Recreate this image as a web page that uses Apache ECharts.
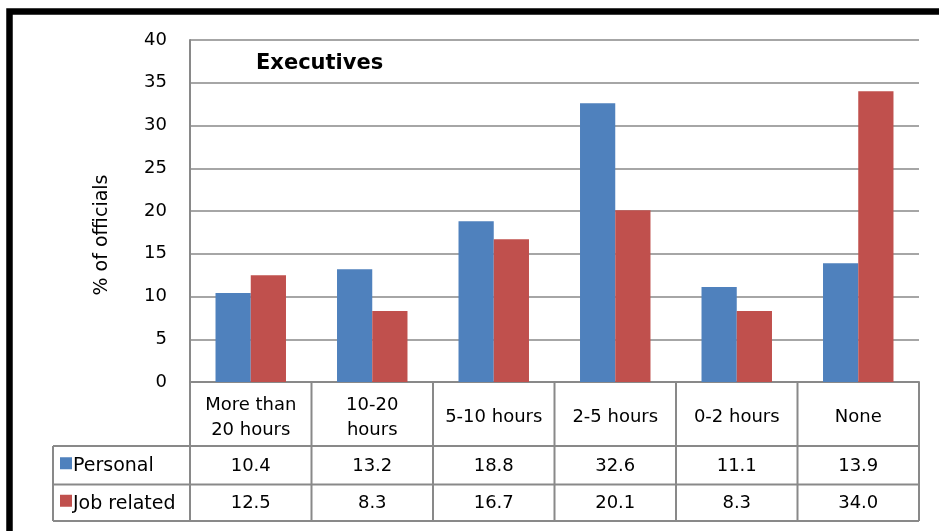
<!DOCTYPE html>
<html>
<head>
<meta charset="utf-8">
<script src="https://cdn.jsdelivr.net/npm/echarts@6/dist/echarts.min.js"></script>
<style>
  html, body { margin: 0; padding: 0; background: #fff; }
  #chart { width: 939px; height: 531px; }
</style>
</head>
<body>
<div id="chart"></div>
<script>
// Weekly hours spent online, executives
const categories = ['More than\n20 hours', '10-20\nhours', '5-10 hours', '2-5 hours', '0-2 hours', 'None'];
const seriesNames = ['Personal', 'Job related'];
const personal = [10.4, 13.2, 18.8, 32.6, 11.1, 13.9];
const jobRelated = [12.5, 8.3, 16.7, 20.1, 8.3, 34.0];
const yMin = 0, yMax = 40, yStep = 5;
const yAxisTitle = '% of officials';

const FONT = 'DejaVu Sans';
const GRID_GRAY = '#898989';
const COLORS = ['#4F81BD', '#C0504D'];

const chart = echarts.init(document.getElementById('chart'), null, { renderer: 'canvas' });

chart.setOption({
  animation: false,
  backgroundColor: '#fff',
  title: {
    text: 'Executives',
    left: 251,
    top: 48,
    textStyle: { fontFamily: FONT, fontSize: 21, fontWeight: 'bold', color: '#000' }
  },
  grid: { left: 190, right: 20, top: 40, bottom: 149, containLabel: false },
  xAxis: {
    type: 'category',
    data: categories,
    axisLine: { show: true, lineStyle: { color: GRID_GRAY, width: 2 } },
    axisTick: { show: false },
    axisLabel: { show: false },
    splitLine: { show: false }
  },
  yAxis: {
    type: 'value',
    min: yMin,
    max: yMax,
    interval: yStep,
    axisLine: { show: true, lineStyle: { color: GRID_GRAY, width: 2 } },
    axisTick: { show: false },
    axisLabel: { fontFamily: FONT, fontSize: 18, color: '#000', margin: 23 },
    splitLine: { show: true, lineStyle: { color: GRID_GRAY, width: 1.5 } }
  },
  series: [
    {
      name: seriesNames[0], type: 'bar', data: personal,
      itemStyle: { color: COLORS[0] },
      barGap: '0%', barCategoryGap: '42%'
    },
    {
      name: seriesNames[1], type: 'bar', data: jobRelated,
      itemStyle: { color: COLORS[1] },
      barGap: '0%', barCategoryGap: '42%'
    }
  ]
});

// Data table drawn under the plot, aligned to the category axis
function buildTable() {
  const c0 = chart.convertToPixel({ xAxisIndex: 0 }, 0);
  const c1 = chart.convertToPixel({ xAxisIndex: 0 }, 1);
  const colW = c1 - c0;
  const left = c0 - colW / 2;
  const right = left + colW * categories.length;
  const top = chart.convertToPixel({ yAxisIndex: 0 }, yMin);
  const rowH = [64, 38.5, 36.5];
  const y1 = top + rowH[0];
  const y2 = y1 + rowH[1];
  const y3 = y2 + rowH[2];
  const legendLeft = 53;
  const lineStyle = { stroke: GRID_GRAY, lineWidth: 2 };
  const els = [];

  const hLine = (x1, x2, y) => els.push({ type: 'line', shape: { x1, y1: y, x2, y2: y }, style: lineStyle, silent: true });
  const vLine = (x, ya, yb) => els.push({ type: 'line', shape: { x1: x, y1: ya, x2: x, y2: yb }, style: lineStyle, silent: true });

  hLine(legendLeft, right, y1);
  hLine(legendLeft, right, y2);
  hLine(legendLeft, right, y3);
  vLine(legendLeft, y1, y3);
  for (let i = 0; i <= categories.length; i++) vLine(left + colW * i, top, y3);

  const rows = [personal, jobRelated];
  categories.forEach((cat, i) => {
    const cx = left + colW * (i + 0.5);
    els.push({
      type: 'text', x: cx, y: top + 35.5, silent: true,
      style: { text: cat, fontFamily: FONT, fontSize: 18, fill: '#000', align: 'center', verticalAlign: 'middle', lineHeight: 25 }
    });
    rows.forEach((vals, r) => {
      const ry = r === 0 ? y1 + rowH[1] / 2 : y2 + rowH[2] / 2;
      els.push({
        type: 'text', x: cx, y: ry + 1, silent: true,
        style: { text: vals[i].toFixed(1), fontFamily: FONT, fontSize: 18, fill: '#000', align: 'center', verticalAlign: 'middle' }
      });
    });
  });

  seriesNames.forEach((name, r) => {
    const ry = r === 0 ? y1 + rowH[1] / 2 : y2 + rowH[2] / 2;
    els.push({ type: 'rect', shape: { x: 60, y: ry - 8, width: 12, height: 12 }, style: { fill: COLORS[r] }, silent: true });
    els.push({
      type: 'text', x: 73, y: ry + 1, silent: true,
      style: { text: name, fontFamily: FONT, fontSize: 19, fill: '#000', align: 'left', verticalAlign: 'middle' }
    });
  });

  // Value-axis title, rotated, sitting a little below the axis middle
  els.push({
    type: 'text', x: 102, y: 235, rotation: Math.PI / 2, silent: true,
    style: { text: yAxisTitle, fontFamily: FONT, fontSize: 19, fill: '#000', align: 'center', verticalAlign: 'middle' }
  });

  // Outer frame (thick black, runs off the right and bottom)
  els.push({ type: 'rect', shape: { x: 9.5, y: 11.5, width: 1000, height: 600 }, style: { fill: null, stroke: '#000', lineWidth: 6.5 }, silent: true });

  chart.setOption({ graphic: els });
}
buildTable();
</script>
</body>
</html>
